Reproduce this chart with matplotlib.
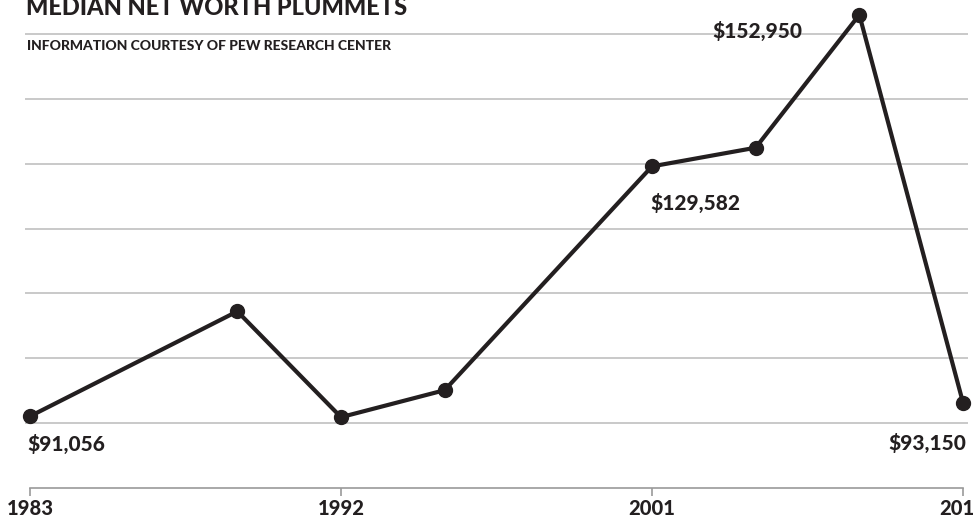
import matplotlib.pyplot as plt

# Median net worth (Pew Research Center)
years = [1983, 1989, 1992, 1995, 2001, 2004, 2007, 2010]
net_worth = [91056, 107230, 90920, 95080, 129582, 132460, 152950, 93150]

# which points carry a value label, and where (offset in pixels, alignment)
labelled = {1983: (-3, -28, 'left'),
            2001: (43, -37, 'center'),
            2007: (-102, -16, 'center'),
            2010: (3, -40, 'right')}

year_ticks = [1983, 1992, 2001, 2010]
grid_vals = [90000, 100000, 110000, 120000, 130000, 140000, 150000]

INK = '#231f20'
GRID = '#c9c9c9'
AXIS = '#9a9a9a'
FONT = ['Lato', 'DejaVu Sans']

fig = plt.figure(figsize=(9.73, 5.2), dpi=100)
ax = fig.add_axes([0, 32 / 520, 1, 1 - 32 / 520])
ax.set_xlim(1983 - 30 / 34.556, 1983 + 943 / 34.556)
ax.set_ylim(80000, 155231)

ax.hlines(grid_vals, 1982.85, 2010.15, color=GRID, lw=1.4, zorder=1)

ax.plot(years, net_worth, color=INK, lw=3.0, marker='o', ms=10,
        solid_joinstyle='miter', zorder=3, clip_on=False)

for yr, val in zip(years, net_worth):
    if yr in labelled:
        dx, dy, ha = labelled[yr]
        ax.annotate(f"${val:,}", xy=(yr, val), xytext=(dx, dy),
                    textcoords='offset pixels', ha=ha, va='center',
                    fontsize=15, fontweight='black', color=INK,
                    family=FONT)

for side in ('top', 'left', 'right'):
    ax.spines[side].set_visible(False)
ax.spines['bottom'].set_bounds(1983, 2010)
ax.spines['bottom'].set_color(AXIS)
ax.spines['bottom'].set_linewidth(1.2)
ax.set_yticks([])
ax.set_xticks(year_ticks)
ax.set_xticklabels([str(y) for y in year_ticks], fontsize=14.5,
                   fontweight='black', color=INK, family=FONT)
ax.tick_params(axis='x', length=6, width=1.2, color=AXIS, pad=2)

# title runs off the top edge, as in the original
fig.text(0.027, 1 - 15 / 520, "MEDIAN NET WORTH PLUMMETS", fontsize=17,
         fontweight='black', color=INK, family=FONT, va='baseline')
fig.text(0.028, 1 - 50 / 520, "INFORMATION COURTESY OF PEW RESEARCH CENTER",
         fontsize=10, fontweight='black', color=INK, family=FONT,
         va='baseline')

fig.savefig("out.png", dpi=100)
